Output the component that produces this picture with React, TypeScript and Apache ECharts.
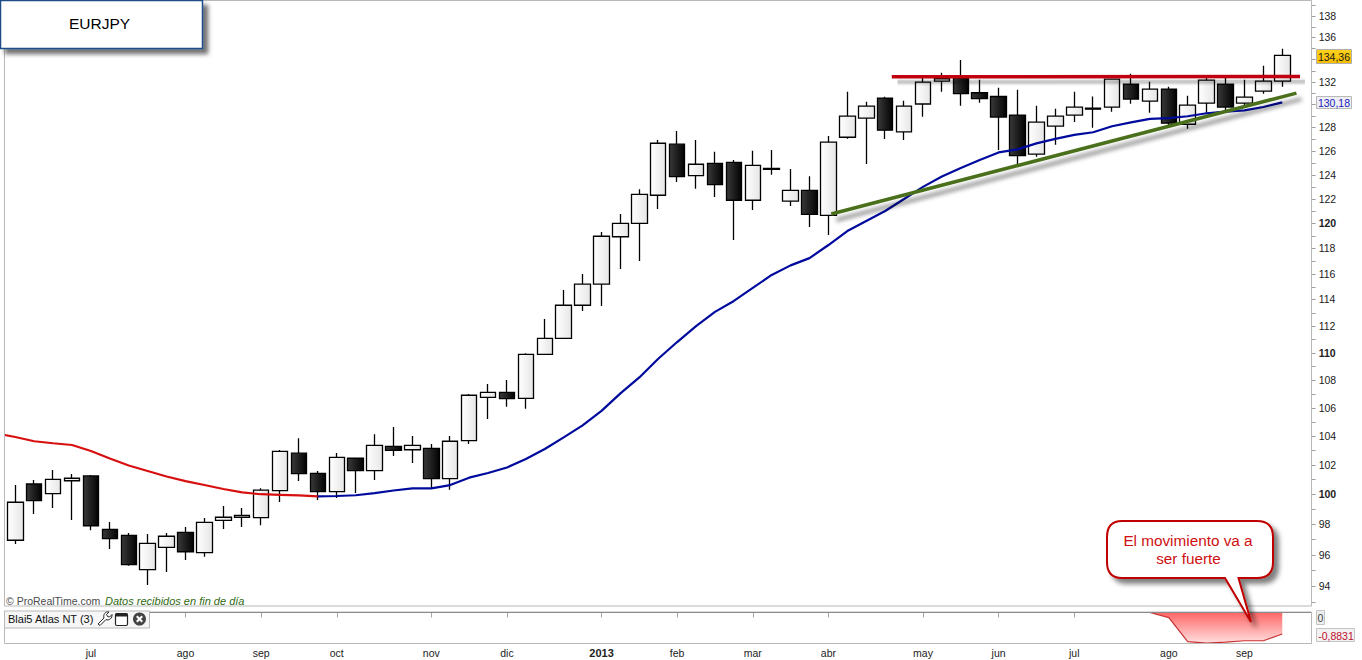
import React, { useEffect, useRef } from "react";
import * as echarts from "echarts";

// Weekly EURJPY candles, prices
const opens = [96.94,100.68,100.03,100.9,101.23,97.65,97.26,95.04,96.48,97.46,96.13,98.25,98.45,98.42,100.23,102.79,101.41,100.16,102.44,101.59,103.27,103.03,103.13,101.04,103.66,106.73,107.09,106.66,109.87,111.06,113.56,115.18,118.92,120,122.29,126.57,123.92,124.95,125.03,121.88,124.45,121.8,122.7,120.65,127.16,128.81,130.56,127.63,130.04,132.06,132.36,131.03,130.7,129.07,125.72,128.11,129.07,129.68,129.77,131.8,130.3,131.35,128.28,130.12,131.8,130.12,131.18,132.06];
const closes = [99.45,99.56,101.0,101.07,97.89,97.04,95.36,96.74,97.2,96.19,98.11,98.45,98.58,100.26,102.92,101.38,100.16,102.5,101.59,103.34,102.99,103.34,101.04,103.62,106.88,107.09,106.64,109.87,111.06,113.56,115.18,118.96,120,122.37,126.65,123.83,124.87,123.17,121.88,124.78,124.53,122.7,120.73,126.74,128.98,129.86,127.77,129.86,131.97,132.27,130.96,130.52,128.9,125.6,128.46,128.98,129.77,129.59,132.24,130.47,131.35,128.37,129.95,132.15,129.77,130.65,132.06,134.36];
const lows = [96.69,98.67,99.07,98.27,97.6,96.37,95.29,94.06,94.89,95.66,95.87,97.67,97.8,97.93,99.47,100.88,99.6,99.74,100.07,100.95,102.6,102.12,100.39,100.3,103.43,105.19,106.06,105.92,109.87,111.06,113.12,113.5,116.37,117,121.16,123.39,122.83,122.15,118.66,121.08,123.98,121.41,119.7,119.06,127.04,124.89,127.02,126.93,128.92,131.12,129.89,130.15,126.08,124.89,125.51,126.51,128.48,127.97,129.36,130.06,129.27,128.14,127.89,129.27,129.27,129.71,130.94,131.56];
const highs = [100.61,100.95,101.64,101.36,101.29,98.13,97.41,97.34,97.41,97.8,98.4,99.2,99.07,100.39,103.01,103.83,101.57,102.81,102.5,104.11,104.62,103.99,103.43,103.99,106.97,107.7,107.99,109.95,112.52,114.73,115.98,119.3,120.76,122.79,126.93,127.7,126.93,125.92,125.23,126,126.08,124.47,123.87,127.27,131.12,130.24,130.68,130.32,132.47,132.8,133.94,132.18,131.47,131.29,129.89,129.62,131.12,130.7,132.24,132.71,132,131.56,130.76,132.36,132.36,132.18,133.43,134.96];

// Moving average: falling stretch (red, one value before the first candle), rising stretch (blue)
const maFalling = [104.17,103.92,103.62,103.48,103.36,102.94,102.42,101.94,101.57,101.19,100.88,100.61,100.34,100.11,99.99,99.95,99.91,99.85];
const maRising = [99.85,99.87,99.92,100.07,100.24,100.39,100.39,100.61,101.11,101.43,101.81,102.39,103.08,103.89,104.73,105.76,107.02,108.17,109.54,110.78,111.98,113.05,113.89,114.89,115.9,116.65,117.22,118.26,119.38,120.19,121,121.98,122.98,123.85,124.56,125.23,125.87,126.13,126.64,127.02,127.36,127.59,128.11,128.44,128.75,128.81,128.97,129.23,129.37,129.48,129.78,130.18];

// Indicator values for the last candles
const indicatorValues = [0,-0.21,-1.2,-1.26,-1.22,-1.16,-1.16,-0.8831];

// Hand-drawn trend lines: [candle number, price]
const supportLine = [[43.15,120.76],[67.75,131.0]];
const resistanceLine = [[46.35,132.45],[67.94,132.47]];
const resistanceShadow = [[46.65,131.98],[68.2,132.0]];

const monthNames = ["jul","ago","sep","oct","nov","dic","2013","feb","mar","abr","may","jun","jul","ago","sep"];
const monthCandles = [4,9,13,17,22,26,31,35,39,43,48,52,56,61,65];

const tickPrices = [93,94,95,96,97,98,99,100,101,102,103,104,105,106,107,108,109,110,111,112,113,114,115,116,117,118,119,120,121,122,123,124,125,126,127,128,129,130,131,132,133,134,135,136,137,138,139];
const labelPrices = [94,96,98,100,102,104,106,108,110,112,114,116,118,120,122,124,126,128,132,136,138];
const boldPrices = [100,110,120];

const SLOTS = 70;
const STEP = 18.91;
const FONT = '"Liberation Sans", Arial, sans-serif';

function App() {
  const ref = useRef<HTMLDivElement>(null);
  useEffect(() => {
    document.body.style.margin = "0";
    echarts.graphic.registerShape("callout", echarts.graphic.extendPath(
      "M1122 521 L1257 521 Q1273 521 1273 537 L1273 562 Q1273 578 1257 578 L1238.5 578 L1251 622 L1225 578 L1122 578 Q1107 578 1107 562 L1107 537 Q1107 521 1122 521 Z", {}));
    echarts.graphic.registerShape("wrench", echarts.graphic.extendPath(
      "M98 624 L104 618 C103 615 105 611 109 612 L106.5 614.5 L107.5 616.5 L109.5 617 L112 614.5 C112.5 618 109 621 106 619.5 L100 625.5 Z", {}));

    const chart = echarts.init(ref.current!, null, { renderer: "svg" });
    const categories = Array.from({ length: SLOTS }, (_, i) => {
      const at = monthCandles.indexOf(i - 1);
      return at >= 0 ? monthNames[at] : "";
    });
    const isMonth = (i: number) => monthCandles.indexOf(i - 1) >= 0;
    const blank = ["-", "-", "-", "-"];
    const candleRows = [blank, ...opens.map((o, i) => [o, closes[i], lows[i], highs[i]]), blank];
    const redData = [...maFalling, ...Array(SLOTS - maFalling.length).fill(null)];
    const blueData = [...Array(17).fill(null), ...maRising, null];
    const indicatorData = [...Array(SLOTS - indicatorValues.length - 1).fill(null), ...indicatorValues, null];
    const grad = (a: string, b: string) => new echarts.graphic.LinearGradient(0, 0, 1, 0, [{ offset: 0, color: a }, { offset: 1, color: b }]);

    const left = 15.3 - 1.5 * STEP;
    const gridWidth = SLOTS * STEP;

    const option: any = {
      animation: false,
      backgroundColor: "#ffffff",
      grid: [
        { left, width: gridWidth, top: 1, height: 605, outerBoundsMode: "none" },
        { left, width: gridWidth, top: 612.5, height: 31, outerBoundsMode: "none" },
      ],
      xAxis: [
        { type: "category", gridIndex: 0, data: categories, show: false },
        { type: "value", gridIndex: 0, min: -1.5, max: 68.5, show: false },
        {
          type: "category", gridIndex: 1, data: categories, position: "bottom",
          axisLine: { show: false },
          axisTick: { show: true, alignWithLabel: true, interval: (i: number) => isMonth(i), length: 5, lineStyle: { color: "#a8a8a8" } },
          axisLabel: {
            interval: (i: number) => isMonth(i), fontFamily: FONT, fontSize: 10.5, color: "#222", margin: 4, hideOverlap: false,
            formatter: (v: string) => (v === "2013" ? "{b|2013}" : v),
            rich: { b: { fontWeight: "bold", fontFamily: FONT, fontSize: 11, color: "#222" } },
          },
        },
      ],
      yAxis: [
        {
          type: "log", gridIndex: 0, position: "right", offset: 1, min: 92.74, max: 139.38, logBase: 10,
          splitLine: { show: false },
          axisLine: { show: false },
          minorTick: { show: false },
          axisTick: { show: false },
          axisLabel: {
            customValues: labelPrices, margin: 7, fontFamily: FONT, fontSize: 10.5, color: "#222",
            formatter: (v: number) => (boldPrices.indexOf(Math.round(v)) >= 0 ? `{b|${Math.round(v)}}` : `${Math.round(v)}`),
            rich: { b: { fontWeight: "bold", fontFamily: FONT, fontSize: 10.5, color: "#222" } },
          },
        },
        {
          type: "value", gridIndex: 1, position: "right", offset: 1, min: -1.273, max: 0,
          splitLine: { show: false }, axisLine: { show: false }, axisLabel: { show: false },
          axisTick: { show: false },
        },
      ],
      series: [
        {
          type: "candlestick", xAxisIndex: 0, yAxisIndex: 0, data: candleRows, barWidth: 16,
          itemStyle: {
            color: grad("#ffffff", "#e6e6e6"), color0: grad("#3a3a3a", "#020202"),
            borderColor: "#000000", borderColor0: "#000000", borderWidth: 1.3,
          },
        },
        { type: "line", xAxisIndex: 0, yAxisIndex: 0, data: redData, symbol: "none", lineStyle: { color: "#d80f0f", width: 2.2 }, z: 4 },
        { type: "line", xAxisIndex: 0, yAxisIndex: 0, data: blueData, symbol: "none", lineStyle: { color: "#000a9c", width: 2.2 }, z: 5 },
        {
          type: "line", xAxisIndex: 1, yAxisIndex: 0, data: supportLine, symbol: "none", z: 6,
          lineStyle: { color: "#4b6f1e", width: 3.5, shadowColor: "rgba(0,0,0,0.45)", shadowBlur: 4, shadowOffsetX: 5, shadowOffsetY: 6, cap: "butt" },
        },
        { type: "line", xAxisIndex: 1, yAxisIndex: 0, data: resistanceShadow, symbol: "none", z: 5, lineStyle: { color: "rgba(0,0,0,0.07)", width: 7, cap: "butt" } },
        { type: "line", xAxisIndex: 1, yAxisIndex: 0, data: resistanceShadow, symbol: "none", z: 5, lineStyle: { color: "rgba(0,0,0,0.15)", width: 3.5, cap: "butt" } },
        {
          type: "line", xAxisIndex: 1, yAxisIndex: 0, data: resistanceLine, symbol: "none", z: 6,
          lineStyle: { color: "#c00010", width: 3.5, cap: "butt" },
        },
        {
          type: "line", xAxisIndex: 2, yAxisIndex: 1, data: indicatorData, symbol: "none",
          lineStyle: { color: "#cc3030", width: 1.2 },
          areaStyle: {
            opacity: 1, origin: "end",
            color: new echarts.graphic.LinearGradient(0, 0, 0, 1, [{ offset: 0, color: "#ff6666" }, { offset: 1, color: "#ffe0e0" }]),
          },
        },
        {
          // right-hand price ticks, placed by the log scale
          type: "custom", xAxisIndex: 1, yAxisIndex: 0, clip: false, silent: true, z: 3,
          data: tickPrices.map((p) => [68.5, p]),
          renderItem: (_: any, api: any) => {
            const c = api.coord([api.value(0), api.value(1)]);
            const y = Math.round(c[1]) + 0.5;
            return { type: "line", shape: { x1: c[0] + 1, y1: y, x2: c[0] + 5, y2: y }, style: { stroke: "#a0a0a0", lineWidth: 1 } };
          },
        },
      ],
      graphic: { elements: [
        // margin cover and frames
        { type: "rect", z: 50, shape: { x: 0, y: 0, width: 4, height: 660 }, style: { fill: "#fff" } },
        { type: "rect", z: 51, shape: { x: 4.5, y: 0.5, width: 1307, height: 605.5 }, style: { fill: "none", stroke: "#b8b8b8", lineWidth: 1 } },
        { type: "rect", z: 51, shape: { x: 4.5, y: 612, width: 1307, height: 31.5 }, style: { fill: "none", stroke: "#b8b8b8", lineWidth: 1 } },
        { type: "line", z: 51, shape: { x1: 5, y1: 612.5, x2: 1311, y2: 612.5 }, style: { stroke: "#8c8c8c", lineWidth: 1 } },

        // title box
        { type: "rect", z: 60, shape: { x: 0.5, y: 0.5, width: 202, height: 48 }, style: { fill: "#fff", stroke: "#1f4e86", lineWidth: 1.5, shadowColor: "rgba(0,0,0,0.55)", shadowBlur: 4, shadowOffsetX: 5, shadowOffsetY: 5 } },
        { type: "text", z: 61, style: { x: 99.5, y: 23, text: "EURJPY", fill: "#000", font: `15.5px ${FONT}`, align: "center", verticalAlign: "middle" } },

        // watermark
        { type: "text", z: 52, style: { x: 6, y: 600.5, text: "© ProRealTime.com", fill: "#4a4a4a", font: `10.5px ${FONT}`, verticalAlign: "middle" } },
        { type: "text", z: 52, style: { x: 105, y: 600.5, text: "Datos recibidos en fin de día", fill: "#2f6a12", font: `italic 11px ${FONT}`, verticalAlign: "middle" } },

        // indicator legend
        { type: "rect", z: 60, shape: { x: 4.5, y: 611, width: 145, height: 17 }, style: { fill: "#f6f6f6", stroke: "#b8b8b8", lineWidth: 1 } },
        { type: "text", z: 61, style: { x: 8, y: 619, text: "Blai5 Atlas NT (3)", fill: "#111", font: `11px ${FONT}`, verticalAlign: "middle" } },
        { type: "wrench", z: 61, x: 0, y: 0, style: { fill: "#fff", stroke: "#222", lineWidth: 1 } },
        { type: "rect", z: 61, shape: { x: 115.5, y: 613.5, width: 12, height: 12, r: 1.5 }, style: { fill: "#fff", stroke: "#222", lineWidth: 1.2 } },
        { type: "rect", z: 61, shape: { x: 115.5, y: 613.5, width: 12, height: 3 }, style: { fill: "#222" } },
        { type: "circle", z: 61, shape: { cx: 139.5, cy: 619, r: 6.5 }, style: { fill: "#444" } },
        { type: "line", z: 62, shape: { x1: 136.8, y1: 616.3, x2: 142.2, y2: 621.7 }, style: { stroke: "#fff", lineWidth: 2 } },
        { type: "line", z: 62, shape: { x1: 142.2, y1: 616.3, x2: 136.8, y2: 621.7 }, style: { stroke: "#fff", lineWidth: 2 } },

        // last-value flags
        { type: "rect", z: 60, shape: { x: 1316.5, y: 49.5, width: 35, height: 14 }, style: { fill: new echarts.graphic.LinearGradient(0, 0, 0, 1, [{ offset: 0, color: "#ffd21e" }, { offset: 1, color: "#f6bd00" }]), stroke: "#b0b0b0", lineWidth: 1 } },
        { type: "text", z: 61, style: { x: 1334, y: 57, text: "134,36", fill: "#1a1a1a", font: `10.5px ${FONT}`, align: "center", verticalAlign: "middle" } },
        { type: "rect", z: 60, shape: { x: 1316.5, y: 96.5, width: 35, height: 12 }, style: { fill: "#eeeef4", stroke: "#b8b8b8", lineWidth: 1 } },
        { type: "text", z: 61, style: { x: 1334, y: 103, text: "130,18", fill: "#2020c0", font: `10.5px ${FONT}`, align: "center", verticalAlign: "middle" } },
        { type: "rect", z: 60, shape: { x: 1316.5, y: 610.5, width: 8, height: 14 }, style: { fill: "#eeeeee", stroke: "#c4c4c4", lineWidth: 1 } },
        { type: "text", z: 61, style: { x: 1320.5, y: 618, text: "0", fill: "#444", font: `10.5px ${FONT}`, align: "center", verticalAlign: "middle" } },
        { type: "rect", z: 60, shape: { x: 1316.5, y: 628.5, width: 38, height: 13 }, style: { fill: "#f2f2f2", stroke: "#c4c4c4", lineWidth: 1 } },
        { type: "text", z: 61, style: { x: 1336, y: 635.5, text: "-0,8831", fill: "#c01030", font: `10.5px ${FONT}`, align: "center", verticalAlign: "middle" } },

        // speech bubble
        { type: "callout", z: 70, x: 0, y: 0, style: { fill: "#fff", stroke: "#c00000", lineWidth: 2, shadowColor: "rgba(0,0,0,0.5)", shadowBlur: 5, shadowOffsetX: 5, shadowOffsetY: 5 } },
        { type: "text", z: 71, style: { x: 1188, y: 540, text: "El movimiento va a", fill: "#d01010", font: `15.3px ${FONT}`, align: "center", verticalAlign: "middle" } },
        { type: "text", z: 71, style: { x: 1188.5, y: 558, text: "ser fuerte", fill: "#d01010", font: `15.3px ${FONT}`, align: "center", verticalAlign: "middle" } },
      ] },
    };
    chart.setOption(option);
    return () => chart.dispose();
  }, []);
  return <div ref={ref} style={{ position: "fixed", left: 0, top: 0, width: 1362, height: 660 }} />;
}

export default App;
